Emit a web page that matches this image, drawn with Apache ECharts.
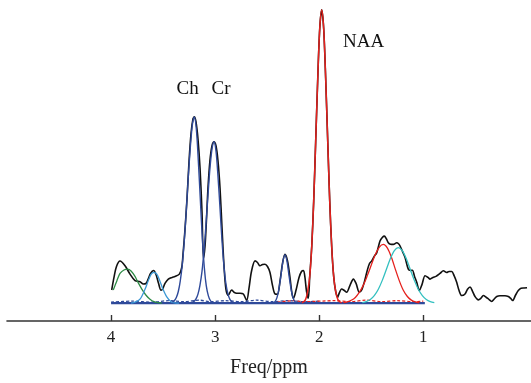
<!DOCTYPE html>
<html>
<head>
<meta charset="utf-8">
<script src="https://cdn.jsdelivr.net/npm/echarts@6/dist/echarts.min.js"></script>
<style>
html,body{margin:0;padding:0;background:#fff;}
#chart{width:531px;height:383px;}
</style>
</head>
<body>
<div id="chart"></div>
<script>
// x = chemical shift (ppm), y = amplitude (arbitrary units)
var tickValues = [1, 2, 3, 4];
var axisTitle = 'Freq/ppm';
var peakLabels = ['Ch', 'Cr', 'NAA'];

var spectrum = [
  [3.994,13.3],[3.972,26],[3.948,37],[3.914,42.5],[3.866,37.7],[3.818,29.3],[3.770,22.7],[3.722,21.7],
  [3.690,19.3],[3.664,20],[3.645,24],[3.621,30],[3.592,33],[3.568,29],[3.544,20],[3.520,13],[3.501,15],
  [3.482,20],[3.450,24.3],[3.414,26],[3.386,27],[3.344,29.3],[3.321,36],[3.309,49],[3.290,74],[3.270,106],
  [3.251,143],[3.232,171],[3.213,186],[3.200,188],[3.184,183],[3.165,166],[3.145,136],[3.126,91],[3.112,45],
  [3.097,58],[3.083,85],[3.069,116],[3.050,144],[3.030,159],[3.011,163],[2.992,159],[2.973,144],[2.953,116],
  [2.934,76],[2.915,38],[2.896,14],[2.874,8],[2.841,13.3],[2.819,11],[2.793,10],[2.761,10],[2.729,9.3],
  [2.697,2.7],[2.675,15],[2.651,32],[2.617,42.7],[2.593,41],[2.569,37.7],[2.545,39],[2.521,39.3],[2.497,37],
  [2.473,31],[2.449,18],[2.425,9.3],[2.401,9],[2.377,22],[2.353,40],[2.329,49.3],[2.305,43],[2.281,26],
  [2.262,10],[2.247,5],[2.223,13],[2.194,26],[2.170,32],[2.151,33],[2.137,26],[2.122,12],[2.105,5],
  [2.091,27],[2.072,57],[2.053,103],[2.034,163],[2.014,227],[1.995,277],[1.976,296],[1.957,277],[1.938,227],
  [1.918,163],[1.899,103],[1.880,57],[1.861,27],[1.842,12],[1.822,6],[1.817,7.7],[1.784,14.3],[1.762,13],
  [1.736,11],[1.704,18],[1.672,24.3],[1.646,20],[1.615,11],[1.589,14],[1.565,22],[1.541,32],[1.517,40],
  [1.495,42.7],[1.473,47],[1.447,51],[1.416,62.7],[1.392,66.5],[1.374,67.7],[1.355,65],[1.336,61],[1.315,59.5],
  [1.288,59.3],[1.255,61],[1.238,60],[1.223,57.7],[1.199,52],[1.175,46],[1.144,34.3],[1.123,33],[1.105,33.3],
  [1.084,27],[1.063,21],[1.038,12.7],[1.012,19],[0.983,27.7],[0.955,26],[0.935,24.3],[0.907,26],[0.878,27],
  [0.839,30],[0.807,32.7],[0.775,31],[0.753,32],[0.727,32],[0.705,28],[0.679,21],[0.657,13],[0.631,7.7],
  [0.599,9.3],[0.575,14],[0.551,16.3],[0.527,12],[0.503,6.7],[0.471,3.3],[0.446,5],[0.423,7.7],[0.397,6],
  [0.375,4.3],[0.342,1.7],[0.320,4],[0.294,6.7],[0.263,7.5],[0.215,7.5],[0.183,6.7],[0.162,5],[0.141,2.7],
  [0.114,8],[0.087,12.7],[0.061,15],[0.032,15.3],[0.003,15.5]
];

var fitGreen = [
  [3.979,13.3],[3.943,23],[3.914,30],[3.876,33.5],[3.840,34.3],[3.808,32.5],[3.770,27],[3.741,21],
  [3.703,14],[3.664,8],[3.626,4],[3.588,1.5],[3.549,0.5],[3.511,0]
];
var fitLightBlue = [
  [3.808,0],[3.770,1],[3.722,4],[3.674,14],[3.645,22],[3.616,29],[3.588,31],[3.559,29],[3.530,22],
  [3.501,14],[3.463,6],[3.424,1.5],[3.386,0.3],[3.347,0]
];
var fitCh = [
  [3.411,1],[3.392,2.5],[3.373,5.7],[3.354,11.8],[3.335,22.6],[3.315,39.7],[3.296,63.7],[3.277,94],
  [3.258,127.5],[3.238,158],[3.219,180],[3.200,188],[3.181,176],[3.162,144.4],[3.142,103.8],[3.123,65.3],
  [3.104,36],[3.085,17.4],[3.065,7.4],[3.046,2.7],[3.027,0.9],[3.008,0]
];
var fitCr = [
  [3.222,0.7],[3.203,1.8],[3.184,4.3],[3.165,9.1],[3.146,18],[3.126,32.3],[3.107,53],[3.088,79.4],
  [3.069,108.7],[3.050,136],[3.030,155.8],[3.011,163],[2.992,153.6],[2.973,128.5],[2.953,95.5],[2.934,63],
  [2.915,36.9],[2.896,19.2],[2.876,8.9],[2.857,3.6],[2.838,1.3],[2.819,0.4]
];
var fitSmall = [
  [2.444,0.3],[2.425,1.6],[2.406,5.6],[2.387,14.5],[2.367,28.4],[2.348,42.4],[2.329,49],[2.310,42.4],
  [2.291,28.4],[2.271,14.5],[2.252,5.6],[2.233,1.6],[2.214,0.3]
];
var fitNAA = [
  [2.168,0.4],[2.149,1.4],[2.130,4],[2.111,12],[2.091,27],[2.072,57],[2.053,103],[2.034,163],[2.014,227],
  [1.995,277],[1.976,296],[1.957,277],[1.938,227],[1.918,163],[1.899,103],[1.880,57],[1.861,27],[1.842,12],
  [1.822,4],[1.803,1.4],[1.784,0.4]
];
var fitLipidRed = [
  [1.768,0.5],[1.730,1.3],[1.692,2.9],[1.653,5.8],[1.615,10.8],[1.576,18.2],[1.538,27.8],[1.499,38.7],
  [1.461,49.1],[1.422,56.6],[1.384,59.3],[1.346,55.8],[1.307,46.6],[1.269,34.4],[1.230,22.5],[1.192,13],
  [1.153,6.7],[1.115,3.1],[1.076,1.2],[1.038,0.4]
];
var fitLipidCyan = [
  [1.586,0.6],[1.548,1.6],[1.509,3.7],[1.471,7.6],[1.432,14],[1.394,23],[1.355,34],[1.317,44.8],[1.278,53],
  [1.240,56],[1.202,53],[1.163,44.8],[1.125,34],[1.086,23],[1.048,14],[1.009,7.6],[0.971,3.7],[0.933,1.6],
  [0.894,0.6]
];
var residBlue = [
  [4.0,1],[3.8,2],[3.6,1],[3.45,2.5],[3.3,1.5],[3.15,3],[3.05,1.5],[2.9,2.5],[2.75,1.5],[2.6,3],
  [2.45,1.5],[2.3,2.5],[2.15,1.5],[2.0,2]
];
var residRed = [
  [2.4,1],[2.25,2.5],[2.15,1.5],[1.85,2.5],[1.7,1.5],[1.55,3],[1.4,1.5],[1.25,2.5],[1.1,1.5],[1.0,2]
];
var baseline = [[4.0,0],[0.985,0]];

var NAVY = '#2f4a9a', RED = '#e5211d', BLACK = '#111111';
var serif = '"Liberation Serif", "Times New Roman", serif';

function line(data, color, width, extra) {
  var s = {
    type: 'line', data: data, showSymbol: false, smooth: 0.3, silent: true,
    lineStyle: { color: color, width: width }
  };
  if (extra) for (var k in extra) s.lineStyle[k] = extra[k];
  return s;
}

var chart = echarts.init(document.getElementById('chart'), null, { renderer: 'canvas' });
chart.setOption({
  animation: false,
  backgroundColor: '#ffffff',
  grid: { left: 7, right: 0, top: 0, bottom: 59 },
  xAxis: {
    type: 'value', min: -0.035, max: 5, inverse: true,
    splitLine: { show: false },
    axisLine: { onZero: false, lineStyle: { color: '#333', width: 1.6 } },
    axisTick: { inside: true, length: 6, customValues: tickValues, lineStyle: { color: '#333', width: 1.4 } },
    axisLabel: { customValues: tickValues, fontFamily: serif, fontSize: 17, color: '#222', margin: 8 },
    name: axisTitle, nameLocation: 'middle', nameGap: 37,
    nameTextStyle: { fontFamily: serif, fontSize: 20, color: '#222' }
  },
  yAxis: { type: 'value', min: -18, max: 306, show: false },
  graphic: [
    { type: 'text', left: 176.5, top: 80, style: { text: peakLabels[0], font: '19px ' + serif, fill: '#111' } },
    { type: 'text', left: 211.5, top: 80, style: { text: peakLabels[1], font: '19px ' + serif, fill: '#111' } },
    { type: 'text', left: 343, top: 33, style: { text: peakLabels[2], font: '19px ' + serif, fill: '#111' } }
  ],
  series: [
    line(spectrum, BLACK, 1.6),
    line(residBlue, NAVY, 1.3, { type: [3, 2] }),
    line(residRed, RED, 1.3, { type: [3, 2] }),
    line(baseline, NAVY, 2.2),
    line(fitGreen, '#2e8b46', 1.3),
    line(fitLightBlue, '#3a97d4', 1.3),
    line(fitCh, NAVY, 1.4),
    line(fitCr, NAVY, 1.4),
    line(fitSmall, NAVY, 1.4),
    line(fitNAA, RED, 1.5),
    line(fitLipidRed, RED, 1.3),
    line(fitLipidCyan, '#34c0c0', 1.3)
  ]
});
</script>
</body>
</html>
